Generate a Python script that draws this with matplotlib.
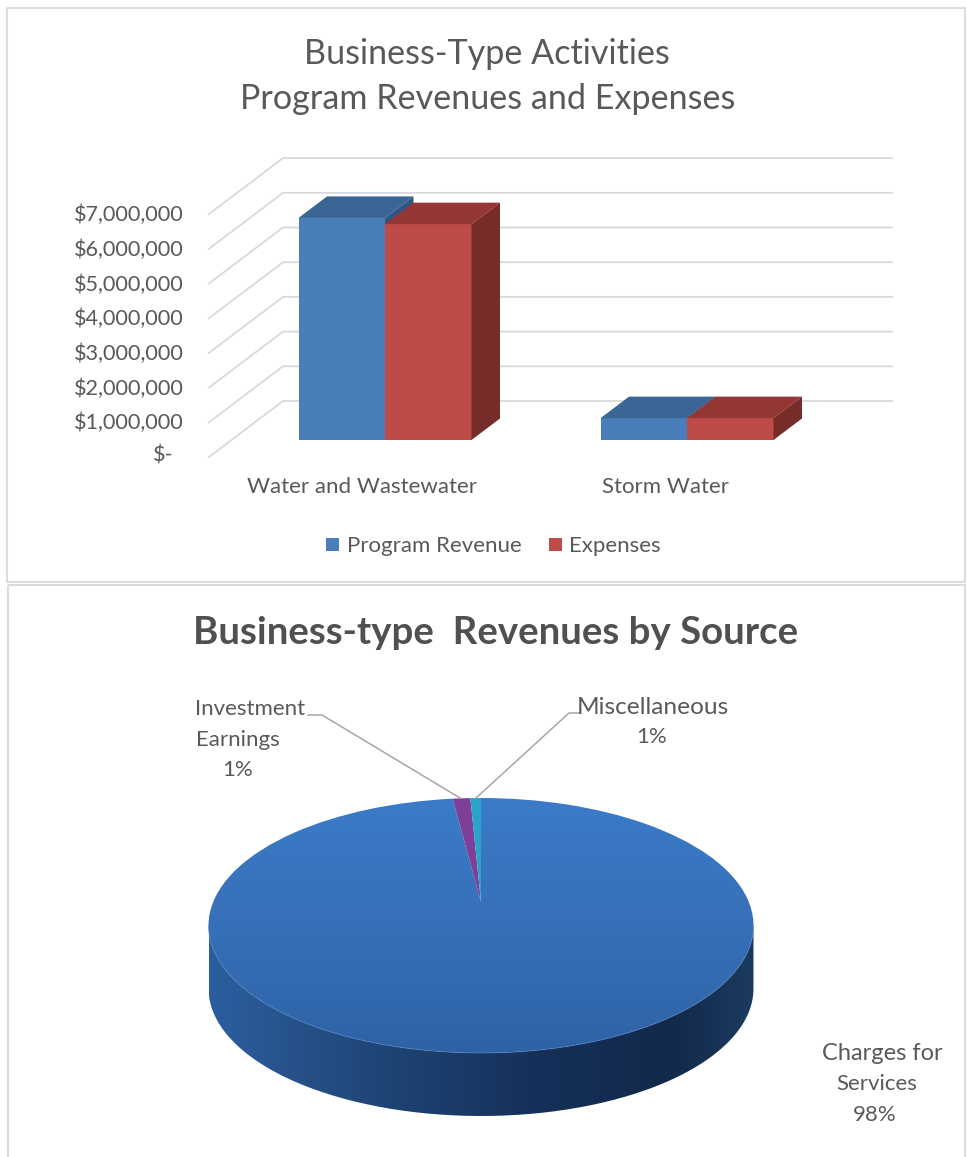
import numpy as np
import matplotlib
matplotlib.use("Agg")
import matplotlib.pyplot as plt
from matplotlib.colors import LinearSegmentedColormap
from matplotlib.patches import Polygon, PathPatch, Rectangle
from matplotlib.path import Path
from matplotlib.transforms import Transform

# ---------- data ----------
categories = ["Water and Wastewater", "Storm Water"]
program_revenue = [6400000, 630000]
expenses = [6220000, 630000]
series_names = ["Program Revenue", "Expenses"]
tick_values = [0, 1000000, 2000000, 3000000, 4000000, 5000000, 6000000, 7000000]

pie_labels = ["Charges for\nServices\n98%", "Investment\nEarnings\n1%", "Miscellaneous\n1%"]
pie_values = [98.0, 1.25, 0.75]
pie_colors = ["none", "#7d3f98", "#2aa5c8"]

# ---------- style ----------
W, H = 967, 1157
FONT = "Lato"
TXT = "#595959"
BLUE, BLUE_TOP, BLUE_SIDE = "#4a7ebb", "#3a6595", "#2f5580"
RED, RED_TOP, RED_SIDE = "#be4b48", "#943634", "#772c2a"
GRID = "#d9d9d9"
PX_PER_CAT = 302.0
PX_PER_USD = 34.7 / 1e6
CX0, BASE_PX = 385.0, 440.0
BAR_W = 86.5 / PX_PER_CAT
DEPTH_X, DEPTH_Y = 28.5 / PX_PER_CAT, 21.5 / PX_PER_USD

fig = plt.figure(figsize=(W / 100, H / 100), dpi=100, facecolor="white")

# pixel-coordinate layer for panels, text and decoration
px = fig.add_axes([0, 0, 1, 1], zorder=3)
px.set_xlim(0, W); px.set_ylim(H, 0); px.axis("off"); px.patch.set_alpha(0)

# ---------- top chart: y axis in dollars, x axis in category units ----------
ax = fig.add_axes([0, 0, 1, 1], zorder=1)
ax.set_xlim((0 - CX0) / PX_PER_CAT, (W - CX0) / PX_PER_CAT)
ax.set_ylim((BASE_PX - H) / PX_PER_USD, BASE_PX / PX_PER_USD)
ax.axis("off")

front_x = (209 - CX0) / PX_PER_CAT
back_x = (283 - CX0) / PX_PER_CAT
right_x = (892 - CX0) / PX_PER_CAT
front_dy = -17 / PX_PER_USD
back_dy = 39 / PX_PER_USD
for v in tick_values:
    ax.plot([front_x, back_x, right_x], [v + front_dy, v + back_dy, v + back_dy],
            color=GRID, lw=1.3, zorder=1, solid_joinstyle="miter")
    label = "$-" if v == 0 else f"${v:,.0f}"
    ax.text(((184 if v else 174) - CX0) / PX_PER_CAT, v + front_dy + (-1 if v else 1) / PX_PER_USD, label,
            ha="right", va="center", family=FONT, fontsize=15.6, color=TXT)


def bar3d(x0, value, front, top, side, z):
    ax.bar(x0, value, BAR_W, align="edge", color=front, zorder=z, linewidth=0)
    x1 = x0 + BAR_W
    ax.add_patch(Polygon([(x0, value), (x1, value), (x1 + DEPTH_X, value + DEPTH_Y), (x0 + DEPTH_X, value + DEPTH_Y)],
                         closed=True, fc=top, ec="none", zorder=z))
    ax.add_patch(Polygon([(x1, 0), (x1 + DEPTH_X, DEPTH_Y), (x1 + DEPTH_X, value + DEPTH_Y), (x1, value)],
                         closed=True, fc=side, ec="none", zorder=z))


for i, (rev, exp) in enumerate(zip(program_revenue, expenses)):
    bar3d(i - BAR_W, rev, BLUE, BLUE_TOP, BLUE_SIDE, 2)
    bar3d(i, exp, RED, RED_TOP, RED_SIDE, 3)


def T(x, y, s, size=16, ha="center", weight="normal", color=TXT):
    return px.text(x, y + 2, s, ha=ha, va="center", family=FONT, fontsize=size, color=color, weight=weight)


T(487, 52, "Business-Type Activities", 24.6)
T(488, 97, "Program Revenues and Expenses", 24.6)
T(362, 485, categories[0])
T(665, 485, categories[1])
px.add_patch(Rectangle((326, 538), 13, 13, fc=BLUE, ec="none"))
T(347, 544, series_names[0], ha="left")
px.add_patch(Rectangle((549, 538), 13, 13, fc=RED, ec="none"))
T(569, 544, series_names[1], ha="left")

# panel borders
for x0, y0, x1, y1 in [(7, 8, 965, 582), (8, 585, 965, 1175)]:
    px.add_patch(Rectangle((x0, y0), x1 - x0, y1 - y0, fc="none", ec="#dcdcdc", lw=1.5))

T(496, 631, "Business-type  Revenues by Source", 27.6, weight="bold", color="#505050")

# ---------- pie chart ----------
CX, TOP, APEX, BOTTOM = 481.0, 798.0, 902.0, 1053.0
RX = 272.5
up, down = APEX - TOP, BOTTOM - APEX
K = (down - up) / (down + up)
A = up * (1 + K)
X_SCALE = RX * np.sqrt(1 - K ** 2)
CY = (TOP + BOTTOM) / 2
RY = (BOTTOM - TOP) / 2
DEPTH = 63.0


class Tilt(Transform):
    """Projective tilt of the unit pie circle into the page's pixel space."""
    input_dims = output_dims = 2
    is_separable = False
    has_inverse = False

    def transform_non_affine(self, values):
        v = np.asarray(values, float)
        w = 1 + K * v[:, 1]
        return np.column_stack([CX + X_SCALE * v[:, 0] / w, APEX - A * v[:, 1] / w])


pax = fig.add_axes([0, 0, 1, 1], zorder=2)
wedges, _ = pax.pie(pie_values, startangle=90, counterclock=False, colors=pie_colors,
                    wedgeprops={"linewidth": 0})
pax.set_aspect("auto")
pax.set_xlim(0, W); pax.set_ylim(H, 0); pax.axis("off"); pax.patch.set_alpha(0)
tilt = Tilt() + pax.transData
for w_ in wedges:
    w_.set_transform(tilt)
    w_.set_zorder(4)

# side wall of the disc
t = np.linspace(np.pi, 0, 200)
ex, ey = CX + RX * np.cos(t), CY + RY * np.sin(t)
side_xy = np.vstack([np.column_stack([ex, ey]), np.column_stack([ex[::-1], ey[::-1] + DEPTH])])
side = PathPatch(Path(np.vstack([side_xy, side_xy[0]])), fc="none", ec="none", transform=pax.transData)
pax.add_patch(side)
side_cmap = LinearSegmentedColormap.from_list("side", [(0, "#2b5e9f"), (0.12, "#28558f"), (0.35, "#1d4272"),
                                                        (0.6, "#16305a"), (0.85, "#12294a"), (1, "#1c3a60")])
im = pax.imshow(np.linspace(0, 1, 400)[None, :], cmap=side_cmap, aspect="auto",
                extent=(CX - RX, CX + RX, CY + RY + DEPTH, CY), zorder=2)
im.set_clip_path(side)

# top face gradient, clipped to the large wedge
top_cmap = LinearSegmentedColormap.from_list("top", ["#3b7bc9", "#3670b8", "#2f62a5"])
im2 = pax.imshow(np.linspace(0, 1, 300)[:, None], cmap=top_cmap, aspect="auto",
                 extent=(CX - RX - 2, CX + RX + 2, BOTTOM + 2, TOP - 2), zorder=3)
im2.set_clip_path(wedges[0])
pax.set_xlim(0, W); pax.set_ylim(H, 0)

# lighter rim along the front edge
pax.plot(ex, ey, color="#5087c8", lw=0.7, zorder=5, alpha=0.55)

# leader lines
LEAD = "#a6a6a6"
px.plot([308, 322, 460], [715, 715, 798], color=LEAD, lw=1.1)
px.plot([580, 569, 476], [713, 713, 798], color=LEAD, lw=1.1)

inv = pie_labels[1].split("\n")
T(250, 707, inv[0]); T(238, 738, inv[1]); T(238, 768, inv[2])
mis = pie_labels[2].split("\n")
T(653, 705, mis[0], 17.6); T(652, 735, mis[1])
cha = pie_labels[0].split("\n")
T(882, 1052, cha[0], 17); T(877, 1082, cha[1]); T(875, 1113, cha[2])

fig.savefig("out.png", dpi=100, facecolor="white")
